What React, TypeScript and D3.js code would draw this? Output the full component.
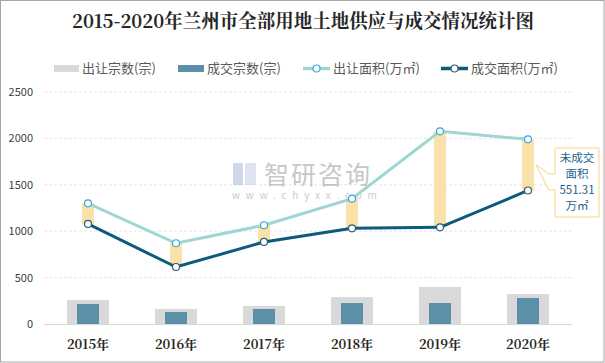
import React, { useEffect, useRef } from 'react';
import * as d3 from 'd3';

const years = ['2015年', '2016年', '2017年', '2018年', '2019年', '2020年'];
const supplyCount = [259, 162, 194, 291, 399, 323];
const dealCount = [216, 129, 162, 226, 226, 280];
const supplyArea = [1300, 870, 1064, 1350, 2076, 1990];
const dealArea = [1078, 614, 884, 1031, 1042, 1438.69];
const yTicks = [0, 500, 1000, 1500, 2000, 2500];
const calloutLines = ['未成交', '面积', '551.31', '万㎡'];

const W = 605;
const H = 363;
const sans = '"Microsoft YaHei", "Noto Sans CJK SC", "Noto Sans", sans-serif';
const serif = '"Noto Serif CJK SC", "DejaVu Serif", "Liberation Serif", serif';

const App: React.FC = () => {
  const svgRef = useRef<SVGSVGElement | null>(null);

  useEffect(() => {
    const svg = d3.select(svgRef.current);
    svg.selectAll('*').remove();

    svg.append('rect').attr('x', 0.5).attr('y', 0.5).attr('width', W - 1.5).attr('height', H - 1.5)
      .attr('fill', '#fff').attr('stroke', '#a6a6a6');

    const x = d3.scaleBand<string>().domain(years).range([44, 572]);
    const y = d3.scaleLinear().domain([0, 2500]).range([324, 92]);
    const cx = (d: string) => (x(d) as number) + x.bandwidth() / 2;

    // title
    svg.append('text').attr('x', 303).attr('y', 28).attr('text-anchor', 'middle')
      .attr('font-family', serif).attr('font-weight', 'bold').attr('font-size', 19)
      .attr('textLength', 462).attr('lengthAdjust', 'spacingAndGlyphs')
      .attr('fill', '#262626').text('2015-2020年兰州市全部用地土地供应与成交情况统计图');

    // legend
    const lg = svg.append('g').attr('font-family', sans).attr('font-size', 13).attr('fill', '#595959');
    lg.append('rect').attr('x', 54).attr('y', 65).attr('width', 25).attr('height', 7).attr('fill', '#d9d9d9');
    lg.append('text').attr('x', 82).attr('y', 73).text('出让宗数(宗)');
    lg.append('rect').attr('x', 178).attr('y', 65).attr('width', 26).attr('height', 7).attr('fill', '#5b90a8');
    lg.append('text').attr('x', 207).attr('y', 73).text('成交宗数(宗)');
    [[303, '#9ed6d2', '#3aa6e0', '出让面积(万㎡)'], [441, '#0e5a7c', '#2b5f73', '成交面积(万㎡)']].forEach(([lx, c, mc, t]) => {
      const xx = lx as number;
      lg.append('line').attr('x1', xx).attr('x2', xx + 27).attr('y1', 68.5).attr('y2', 68.5)
        .attr('stroke', c as string).attr('stroke-width', 3.5);
      lg.append('circle').attr('cx', xx + 13.5).attr('cy', 68.5).attr('r', 3.5)
        .attr('fill', '#fff').attr('stroke', mc as string).attr('stroke-width', 1.2);
      lg.append('text').attr('x', xx + 30).attr('y', 73).text(t as string);
    });

    // grid + y axis
    const grid = svg.append('g');
    yTicks.filter(t => t > 0).forEach(t => {
      grid.append('line').attr('x1', 44).attr('x2', 572).attr('y1', y(t)).attr('y2', y(t))
        .attr('stroke', '#e6e6e6').attr('stroke-dasharray', '3,2');
    });
    yTicks.forEach(t => {
      grid.append('text').attr('x', 33).attr('y', y(t) + 4).attr('text-anchor', 'end')
        .attr('font-family', sans).attr('font-size', 11).attr('fill', '#404040').text(t);
    });

    // watermark
    const wm = svg.append('g').attr('opacity', 0.55);
    wm.append('rect').attr('x', 233).attr('y', 163).attr('width', 10).attr('height', 22).attr('fill', '#a9b8d6');
    wm.append('rect').attr('x', 245).attr('y', 163).attr('width', 11).attr('height', 22).attr('fill', '#c3cde3');
    wm.append('text').attr('x', 264).attr('y', 184).attr('font-family', sans).attr('font-size', 25)
      .attr('fill', '#9a9a9a').attr('letter-spacing', 2).text('智研咨询');
    wm.append('text').attr('x', 232).attr('y', 199).attr('font-family', sans).attr('font-size', 10)
      .attr('fill', '#a0a0a0').attr('letter-spacing', 5.8).text('www.chyxx.com');

    // bars
    const bg = svg.append('g');
    years.forEach((d, i) => {
      bg.append('rect').attr('x', cx(d) - 21).attr('width', 42)
        .attr('y', y(supplyCount[i])).attr('height', y(0) - y(supplyCount[i])).attr('fill', '#d9d9d9');
      bg.append('rect').attr('x', cx(d) - 11).attr('width', 22)
        .attr('y', y(dealCount[i])).attr('height', y(0) - y(dealCount[i])).attr('fill', '#5b90a8');
    });
    svg.append('line').attr('x1', 44).attr('x2', 572).attr('y1', 324.5).attr('y2', 324.5)
      .attr('stroke', '#d9d9d9').attr('stroke-width', 1);

    // gap bands
    years.forEach((d, i) => {
      svg.append('rect').attr('x', cx(d) - 6).attr('width', 12)
        .attr('y', y(supplyArea[i])).attr('height', y(dealArea[i]) - y(supplyArea[i]))
        .attr('fill', '#f8e2a9');
    });

    // lines
    const line = d3.line<number>().x((_, i) => cx(years[i])).y(v => y(v));
    svg.append('path').attr('d', line(supplyArea)).attr('fill', 'none').attr('stroke', '#9ed6d2').attr('stroke-width', 3);
    svg.append('path').attr('d', line(dealArea)).attr('fill', 'none').attr('stroke', '#0e5a7c').attr('stroke-width', 3);
    years.forEach((d, i) => {
      svg.append('circle').attr('cx', cx(d)).attr('cy', y(supplyArea[i])).attr('r', 3.5)
        .attr('fill', '#fff').attr('stroke', '#3aa6e0').attr('stroke-width', 1.2);
      svg.append('circle').attr('cx', cx(d)).attr('cy', y(dealArea[i])).attr('r', 3.5)
        .attr('fill', '#fff').attr('stroke', '#2b5f73').attr('stroke-width', 1.2);
    });

    // x labels
    years.forEach(d => {
      svg.append('text').attr('x', cx(d)).attr('y', 349).attr('text-anchor', 'middle')
        .attr('font-family', serif).attr('font-weight', 'bold').attr('font-size', 13)
        .attr('fill', '#262626').text(d);
    });

    // callout for 2020
    const tipX = cx(years[5]) + 6;
    const tipY = (y(supplyArea[5]) + y(dealArea[5])) / 2;
    const bx0 = 555, bx1 = 599, by0 = 148, by1 = 217;
    const path = d3.path();
    path.moveTo(bx0, by0);
    path.lineTo(bx1, by0);
    path.lineTo(bx1, by1);
    path.lineTo(bx0, by1);
    path.lineTo(bx0, 190);
    path.lineTo(bx0 - 6, 190);
    path.lineTo(tipX + 2, tipY);
    path.lineTo(bx0 - 6, 174);
    path.lineTo(bx0, 174);
    path.closePath();
    svg.append('path').attr('d', path.toString()).attr('fill', '#fff').attr('stroke', '#f9d57f').attr('stroke-width', 1);
    calloutLines.forEach((t, i) => {
      svg.append('text').attr('x', (bx0 + bx1) / 2).attr('y', 162 + i * 16).attr('text-anchor', 'middle')
        .attr('font-family', sans).attr('font-size', 11.5).attr('fill', '#1f5f8b').text(t);
    });
  }, []);

  return <svg ref={svgRef} width={W} height={H} style={{ position: 'absolute', left: 0, top: 0 }} />;
};

export default App;
